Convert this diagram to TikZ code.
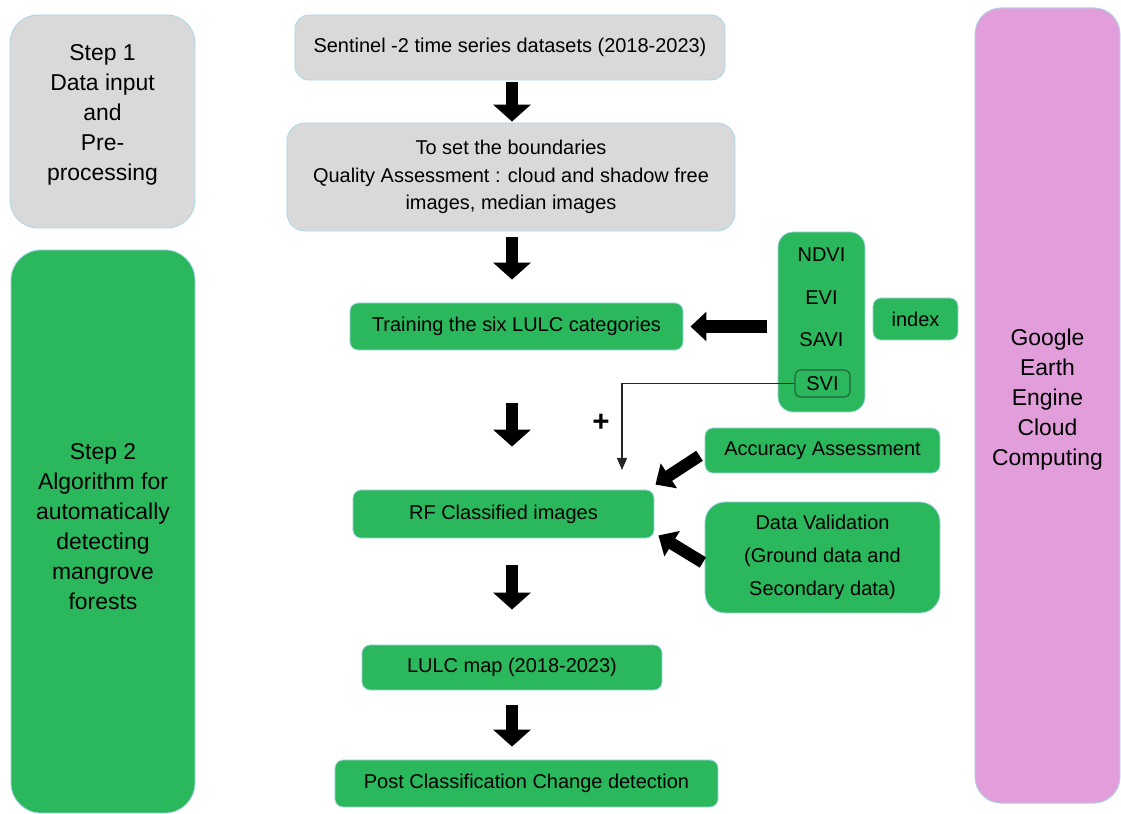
\documentclass[tikz,border=0pt]{standalone}
\usepackage{fontspec}
\setmainfont{Liberation Sans}
\usepackage{xcolor}
\usepackage{tikz}
\usetikzlibrary{positioning, arrows.meta, calc}
\definecolor{boxgreen}{RGB}{43,184,92}
\definecolor{boxgrey}{RGB}{217,217,217}
\definecolor{boxpink}{RGB}{226,158,219}
\definecolor{edgeblue}{RGB}{170,215,235}
\definecolor{svigreen}{RGB}{30,100,60}

\begin{document}
\begin{tikzpicture}[x=0.025cm, y=-0.025cm, every node/.style={font=\fontsize{14.2}{21.3}\selectfont}]
		%%\draw[help lines] (0,0) grid (1121,814);
		\tikzstyle{greyb}=[draw=edgeblue, line width=0.6pt, fill=boxgrey, rounded corners=0.35cm, align=center, text=black]
		\tikzstyle{greenb}=[draw=edgeblue, line width=0.6pt, fill=boxgreen, rounded corners=0.2cm, align=center, text=black]
		\tikzstyle{pinkb}=[draw=edgeblue, line width=0.6pt, fill=boxpink, rounded corners=0.65cm, align=center, text=black]
		\tikzstyle{sidetext}=[font=\fontsize{16.3}{21.3}\selectfont]
		\tikzstyle{bigarrow}=[line width=0.3cm, -{Triangle[width=0.925cm,length=0.425cm]}]
		\tikzstyle{sidearrow}=[line width=0.3cm, -{Triangle[width=0.72cm,length=0.4cm]}]
		\tikzstyle{thinarrow}=[line width=0.8pt, black!85, -{Triangle[width=0.25cm,length=0.3cm]}]
		
		\useasboundingbox (0,0) rectangle (1121,814);
		
		%% steps on the left, platform on the right
		\node[greyb, sidetext, text depth=0.46cm, rounded corners=0.7cm, minimum width=4.625cm, minimum height=5.325cm] (S1) at (102.5,121.5) {Step 1\\Data input\\and\\Pre-\\processing};
		\node[greenb, sidetext, text depth=0.25cm, rounded corners=0.75cm, minimum width=4.6cm, minimum height=14.075cm] (S2) at (103,531.5) {Step 2\\Algorithm for\\automatically\\detecting\\mangrove\\forests};
		\node[pinkb, sidetext, text depth=0.41cm, minimum width=3.625cm, minimum height=19.875cm] (GEE) at (1047.5,405.5) {Google\\Earth\\Engine\\Cloud\\Computing};
		
		%% main column
		\node[greyb, minimum width=10.75cm, minimum height=1.625cm] (SEN) at (510,47.5) {Sentinel -2 time series datasets (2018-2023)};
		\node[greyb, rounded corners=0.45cm, minimum width=11.2cm, minimum height=2.7cm, font=\fontsize{14.2}{19.5}\selectfont] (QA) at (511,177) {To set the boundaries\\Quality Assessment : cloud and shadow free\\images, median images};
		\node[greenb, minimum width=8.325cm, minimum height=1.175cm] (TR) at (516.5,326.5) {Training the six LULC categories};
		\node[greenb, minimum width=7.525cm, minimum height=1.2cm] (RF) at (503.5,514) {RF Classified images};
		\node[greenb, minimum width=7.5cm, minimum height=1.125cm] (LM) at (512,667.5) {LULC map (2018-2023)};
		\node[greenb, minimum width=9.575cm, minimum height=1.175cm] (PC) at (526.5,783.5) {Post Classification Change detection};
		
		%% indices
		\node[greenb, rounded corners=0.375cm, minimum width=2.175cm, minimum height=4.5cm] (IDX) at (821.5,322) {};
		\node (NDVI) at (821.5,255) {NDVI};
		\node (EVI) at (821.5,298) {EVI};
		\node (SAVI) at (821.5,340) {SAVI};
		\node[draw=svigreen, line width=0.8pt, rounded corners=0.15cm, minimum width=1.375cm, minimum height=0.675cm, inner sep=0pt] (SVI) at (822.5,383.5) {SVI};
		\node[greenb, minimum width=2.125cm, minimum height=1.05cm] (IN) at (915.5,319) {index};
		
		%% validation
		\node[greenb, minimum width=5.875cm, minimum height=1.125cm] (ACC) at (822.5,450.5) {Accuracy Assessment};
		\node[greenb, rounded corners=0.5cm, minimum width=5.875cm, minimum height=2.775cm, font=\fontsize{14.2}{23.4}\selectfont] (DV) at (822.5,557.5) {Data Validation\\(Ground data and\\Secondary data)};
		
		\node[font=\bfseries\fontsize{21}{21}\selectfont, inner sep=0pt] (PL) at (601,423) {+};
		\coordinate (SVIend) at (622,470);
		
		\draw[bigarrow, shorten <=0.05cm, shorten >=0.025cm] (SEN.south -| LM.north) -- (QA.north -| LM.north);
		\draw[bigarrow, shorten <=0.15cm, shorten >=0.575cm] (QA.south -| LM.north) -- (TR.north -| LM.north);
		\draw[bigarrow, shorten <=1.325cm, shorten >=1.075cm] (TR.south -| LM.north) -- (RF.north -| LM.north);
		\draw[bigarrow, shorten <=0.675cm, shorten >=0.875cm] (RF.south -| LM.north) -- (LM.north);
		\draw[bigarrow, shorten <=0.375cm, shorten >=0.325cm] (LM.south) -- (PC.north -| LM.south);
		\draw[sidearrow, shorten <=0.275cm, shorten >=0.175cm] (IDX.west |- TR.east) -- (TR.east);
		\draw[sidearrow, shorten <=0.15cm] ([yshift=-0.05cm]ACC.west) -- ([shift={(0.025cm,0.125cm)}]RF.north east);
		\draw[sidearrow, shorten <=0.05cm] ([yshift=-0.15cm]DV.west) -- ([shift={(0.1cm,0.075cm)}]RF.south east);
		\draw[thinarrow] (SVI.west) -| (SVIend);
		
\end{tikzpicture}
\end{document}
